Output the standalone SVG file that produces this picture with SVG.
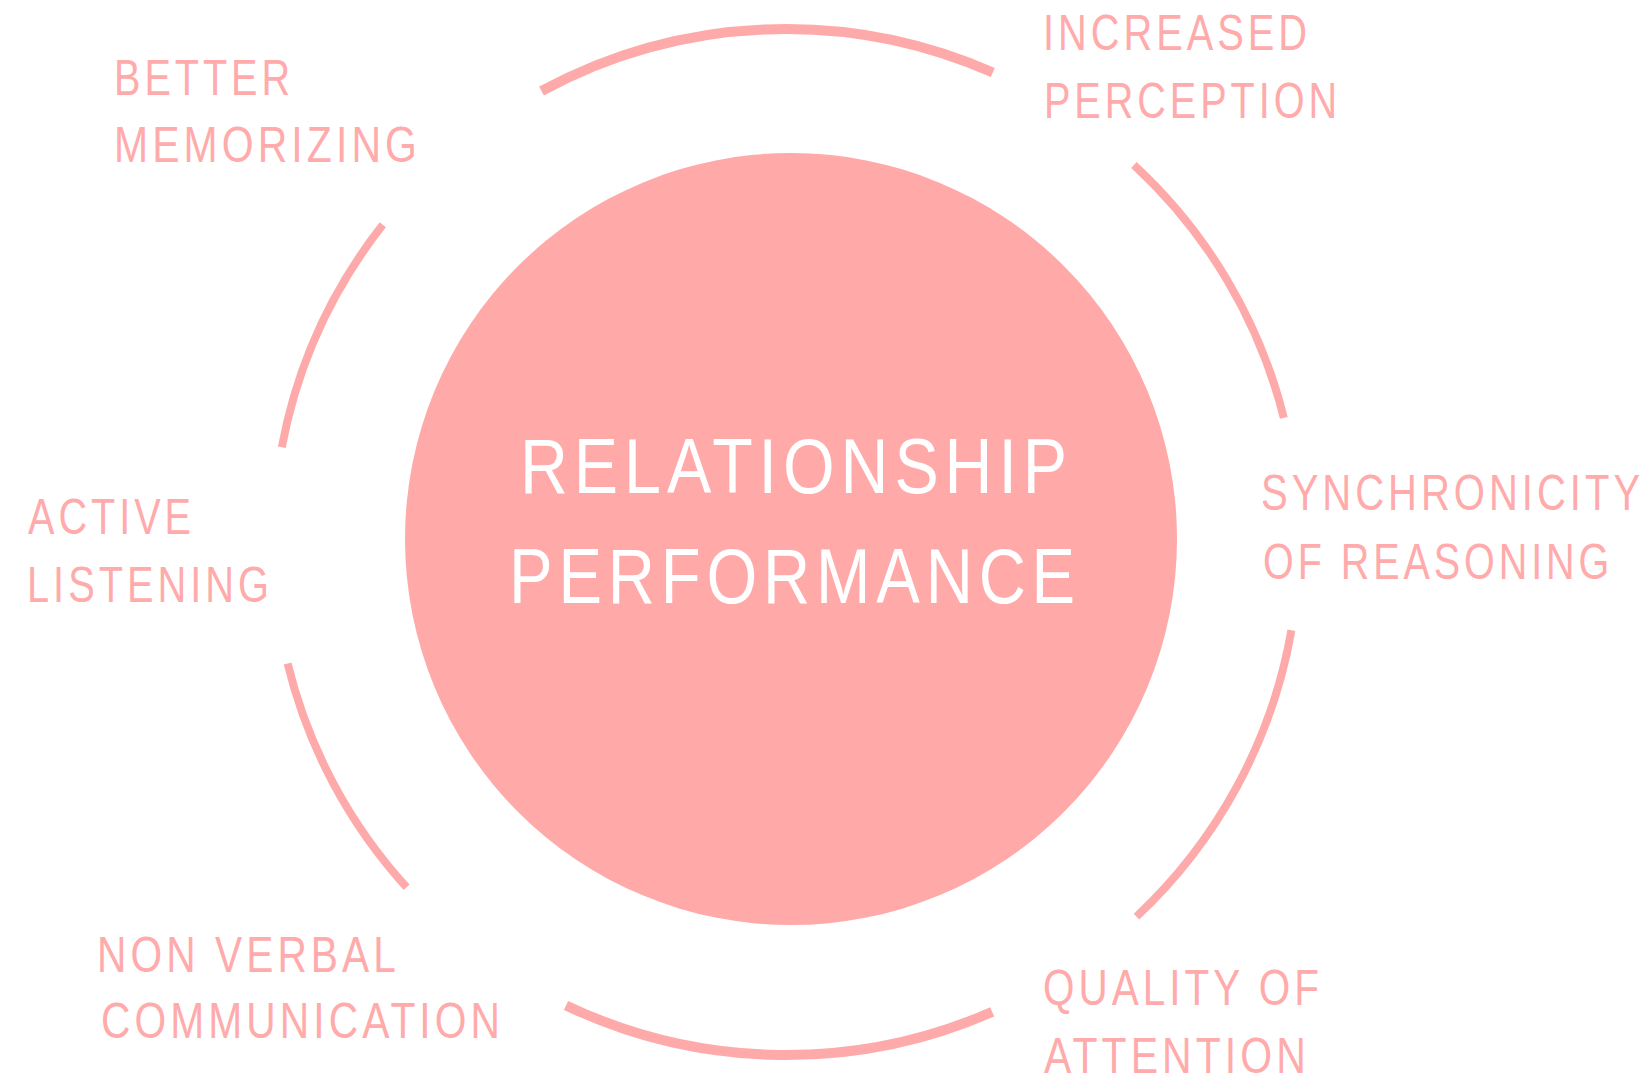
<svg xmlns="http://www.w3.org/2000/svg" width="1652" height="1081" viewBox="0 0 1652 1081">
<style>
.lbl{font-family:"Liberation Sans","DejaVu Sans",sans-serif;font-size:50px;fill:#FFABAB;letter-spacing:5px}
.ctr{font-family:"Liberation Sans","DejaVu Sans",sans-serif;font-size:78px;fill:#FFFFFF;letter-spacing:7px}
.arc{fill:none;stroke:#FFAAAA;stroke-linecap:butt}
.tb{stroke-width:10}
.sd{stroke-width:8}
</style>
<rect width="1652" height="1081" fill="#FFFFFF"/>
<g id="connectors">
<path class="arc tb" d="M 541.5 91 A 513 513 0 0 1 992.8 72.5"/>
<path class="arc sd" d="M 1133.9 165 A 513 513 0 0 1 1283.8 417.9"/>
<path class="arc sd" d="M 1291.4 630.2 A 513 513 0 0 1 1136.5 916.6"/>
<path class="arc tb" d="M 992.2 1011.8 A 513 513 0 0 1 566 1005.4"/>
<path class="arc sd" d="M 406.6 887.3 A 513 513 0 0 1 287.6 663.5"/>
<path class="arc sd" d="M 281.8 447.2 A 513 513 0 0 1 382.8 224.8"/>
</g>
<g id="center">
<circle cx="791" cy="539" r="386" fill="#FFA9A9"/>
<text class="ctr" x="520" y="493" textLength="553" lengthAdjust="spacingAndGlyphs">RELATIONSHIP</text>
<text class="ctr" x="509" y="603" textLength="572" lengthAdjust="spacingAndGlyphs">PERFORMANCE</text>
</g>
<g id="better-memorizing">
<text class="lbl" x="114" y="95" textLength="180" lengthAdjust="spacingAndGlyphs">BETTER</text>
<text class="lbl" x="114" y="162" textLength="307" lengthAdjust="spacingAndGlyphs">MEMORIZING</text>
</g>
<g id="increased-perception">
<text class="lbl" x="1043" y="50" textLength="268" lengthAdjust="spacingAndGlyphs">INCREASED</text>
<text class="lbl" x="1044" y="118" textLength="297" lengthAdjust="spacingAndGlyphs">PERCEPTION</text>
</g>
<g id="synchronicity">
<text class="lbl" transform="translate(1261 510) scale(0.8 1)" x="0" y="0">SYNCHRONICITY</text>
<text class="lbl" transform="translate(1263 579) scale(0.79 1)" x="0" y="0">OF REASONING</text>
</g>
<g id="active-listening">
<text class="lbl" x="28" y="534" textLength="167" lengthAdjust="spacingAndGlyphs">ACTIVE</text>
<text class="lbl" x="27" y="602" textLength="246" lengthAdjust="spacingAndGlyphs">LISTENING</text>
</g>
<g id="non-verbal">
<text class="lbl" x="97" y="972" textLength="303" lengthAdjust="spacingAndGlyphs">NON VERBAL</text>
<text class="lbl" x="101" y="1038" textLength="403" lengthAdjust="spacingAndGlyphs">COMMUNICATION</text>
</g>
<g id="quality-attention">
<text class="lbl" x="1043" y="1005" textLength="280" lengthAdjust="spacingAndGlyphs">QUALITY OF</text>
<text class="lbl" x="1044" y="1073" textLength="266" lengthAdjust="spacingAndGlyphs">ATTENTION</text>
</g>
</svg>
